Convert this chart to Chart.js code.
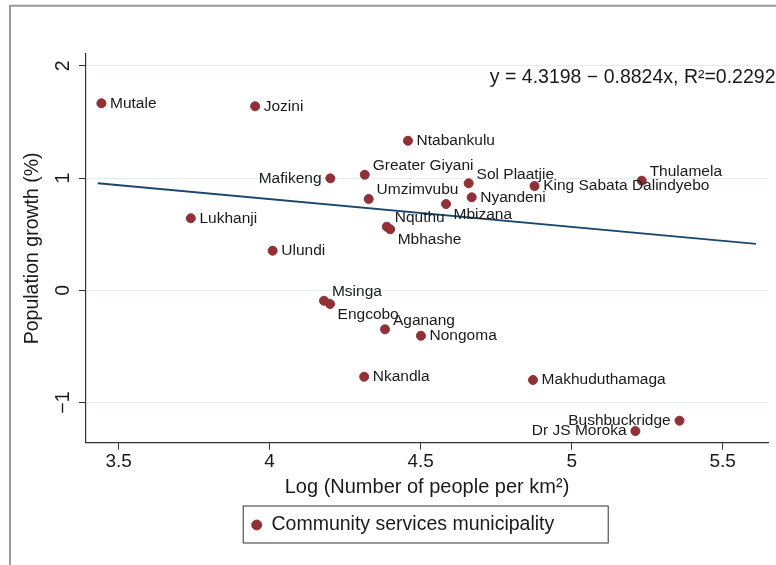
<!DOCTYPE html>
<html lang="en">
<head>
  <meta charset="UTF-8">
  <title>Population growth vs density</title>
  <script src="https://cdn.jsdelivr.net/npm/chart.js"></script>
  <style>
    html, body { margin: 0; padding: 0; background: #fff; }
  </style>
</head>
<body>
  <canvas id="myChart" width="776" height="565"></canvas>

  <script>
    // municipalities (community services)
    const names = [
      'Mutale', 'Jozini', 'Ntabankulu', 'Mafikeng', 'Greater Giyani', 'Umzimvubu',
      'Sol Plaatjie', 'King Sabata Dalindyebo', 'Thulamela', 'Nyandeni', 'Mbizana',
      'Lukhanji', 'Nquthu', 'Mbhashe', 'Ulundi', 'Msinga', 'Engcobo', 'Aganang',
      'Nongoma', 'Nkandla', 'Makhuduthamaga', 'Bushbuckridge', 'Dr JS Moroka'
    ];
    const logDensity = [
      3.443, 3.952, 4.458, 4.201, 4.315, 4.328,
      4.659, 4.877, 5.232, 4.669, 4.584,
      3.739, 4.388, 4.399, 4.010, 4.180, 4.200, 4.382,
      4.501, 4.313, 4.872, 5.357, 5.211
    ];
    const popGrowth = [
      1.667, 1.640, 1.333, 0.998, 1.030, 0.814,
      0.954, 0.930, 0.977, 0.829, 0.769,
      0.642, 0.567, 0.544, 0.353, -0.093, -0.122, -0.348,
      -0.405, -0.770, -0.799, -1.162, -1.254
    ];
    // where each name sits next to its marker: r, ur, lr, l
    const labelSide = [
      'r', 'r', 'r', 'l', 'ur', 'ur',
      'ur', 'r', 'ur', 'r', 'lr',
      'r', 'ur', 'lr', 'r', 'ur', 'lr', 'ur',
      'r', 'r', 'r', 'l', 'l'
    ];

    // fitted line as drawn in the reference
    const fitX = [3.431, 5.610];
    const fitY = [0.954, 0.413];

    const xTicks = [3.5, 4, 4.5, 5, 5.5];
    const xTickLabels = ['3.5', '4', '4.5', '5', '5.5'];
    const yTicks = [-1, 0, 1, 2];
    const yTickLabels = ['\u22121', '0', '1', '2'];

    const fitText = 'y = 4.3198 \u2212 0.8824x, R\u00b2=0.2292';
    const legendLabel = 'Community services municipality';

    const FONT = '"Liberation Sans", Arial, Helvetica, sans-serif';
    const red = '#913037';
    const navy = '#1a476f';
    const ink = '#1a1a1a';

    const framePlugin = {
      id: 'frame',
      beforeDraw(chart) {
        const c = chart.ctx;
        c.save();
        c.fillStyle = '#fff';
        c.fillRect(0, 0, chart.width, chart.height);
        c.strokeStyle = '#9a9a9a';
        c.lineWidth = 2;
        c.beginPath();
        c.moveTo(10, chart.height);
        c.lineTo(10, 5.7);
        c.lineTo(chart.width, 5.7);
        c.stroke();
        c.restore();
      },
      afterLayout(chart) {
        // Stata centres the framed legend box, not the key itself
        chart.legend.left -= 24;
        chart.legend.right -= 24;
      },
      afterDraw(chart) {
        const c = chart.ctx;
        c.save();
        // legend frame
        const hb = chart.legend.legendHitBoxes[0];
        if (hb) {
          const cy = hb.top + hb.height / 2;
          c.strokeStyle = '#333';
          c.lineWidth = 1;
          c.strokeRect(hb.left - 8.5, cy - 19, 365, 37);
        }
        // regression equation
        c.font = '19.5px ' + FONT;
        c.fillStyle = ink;
        c.textAlign = 'right';
        c.textBaseline = 'alphabetic';
        c.fillText(fitText, 775.5, 83.3);
        c.restore();
      }
    };

    const namesPlugin = {
      id: 'pointNames',
      afterDatasetsDraw(chart) {
        const c = chart.ctx;
        const pts = chart.getDatasetMeta(0).data;
        c.save();
        c.font = '15.5px ' + FONT;
        c.fillStyle = ink;
        c.textBaseline = 'middle';
        pts.forEach((p, i) => {
          let dx = 8.6, dy = 0, align = 'left';
          if (labelSide[i] === 'l') { dx = -8.8; align = 'right'; }
          if (labelSide[i] === 'ur') { dx = 7.9; dy = -8.9; }
          if (labelSide[i] === 'lr') { dx = 7.5; dy = 10.7; }
          c.textAlign = align;
          c.fillText(names[i], p.x + dx, p.y + dy);
        });
        c.restore();
      }
    };

    const ctx = document.getElementById('myChart').getContext('2d');
    const myChart = new Chart(ctx, {
      type: 'scatter',
      data: {
        datasets: [
          {
            label: legendLabel,
            data: logDensity.map((x, i) => ({ x: x, y: popGrowth[i] })),
            backgroundColor: red,
            borderColor: red,
            borderWidth: 1,
            pointRadius: 4.5,
            pointHoverRadius: 4.5,
            pointStyle: 'circle'
          },
          {
            label: 'fit',
            data: fitX.map((x, i) => ({ x: x, y: fitY[i] })),
            showLine: true,
            borderColor: navy,
            borderWidth: 1.8,
            pointRadius: 0,
            fill: false
          }
        ]
      },
      options: {
        responsive: false,
        animation: false,
        devicePixelRatio: 1,
        layout: { padding: { left: 0, right: 8, top: 54, bottom: 20.25 } },
        plugins: {
          tooltip: { enabled: false },
          legend: {
            position: 'bottom',
            fullSize: false,
            labels: {
              filter: (item) => item.datasetIndex === 0,
              usePointStyle: true,
              boxWidth: 10,
              boxHeight: 7,
              color: ink,
              font: { family: FONT, size: 19.5 }
            }
          }
        },
        scales: {
          x: {
            type: 'linear',
            min: 3.392,
            max: 5.650,
            afterBuildTicks: (s) => { s.ticks = xTicks.map(v => ({ value: v })); },
            afterFit: (s) => { s.height = 62.55; },
            ticks: {
              autoSkip: false,
              maxRotation: 0,
              padding: 1,
              color: ink,
              font: { family: FONT, size: 19 },
              callback: (v) => xTickLabels[xTicks.indexOf(v)]
            },
            grid: { drawOnChartArea: false, tickLength: 7, tickColor: '#333', tickWidth: 1 },
            border: { color: '#333', width: 1.2 },
            title: {
              display: true,
              text: 'Log (Number of people per km\u00b2)',
              color: ink,
              font: { family: FONT, size: 20 },
              padding: { top: 0, bottom: 6 }
            }
          },
          y: {
            type: 'linear',
            min: -1.358,
            max: 2.106,
            afterBuildTicks: (s) => { s.ticks = yTicks.map(v => ({ value: v })); },
            afterFit: (s) => { s.width = 86; },
            ticks: {
              autoSkip: false,
              minRotation: 90,
              maxRotation: 90,
              crossAlign: 'center',
              padding: 4.7,
              color: ink,
              font: { family: FONT, size: 19.5 },
              callback: (v) => yTickLabels[yTicks.indexOf(v)]
            },
            grid: { color: '#e3ecf1', lineWidth: 1, tickLength: 7, tickColor: '#333', tickWidth: 1 },
            border: { color: '#333', width: 1.2 },
            title: {
              display: true,
              text: 'Population growth (%)',
              color: ink,
              font: { family: FONT, size: 19.5 },
              padding: { top: 20.8, bottom: 0 }
            }
          }
        }
      },
      plugins: [framePlugin, namesPlugin]
    });
  </script>
</body>
</html>
